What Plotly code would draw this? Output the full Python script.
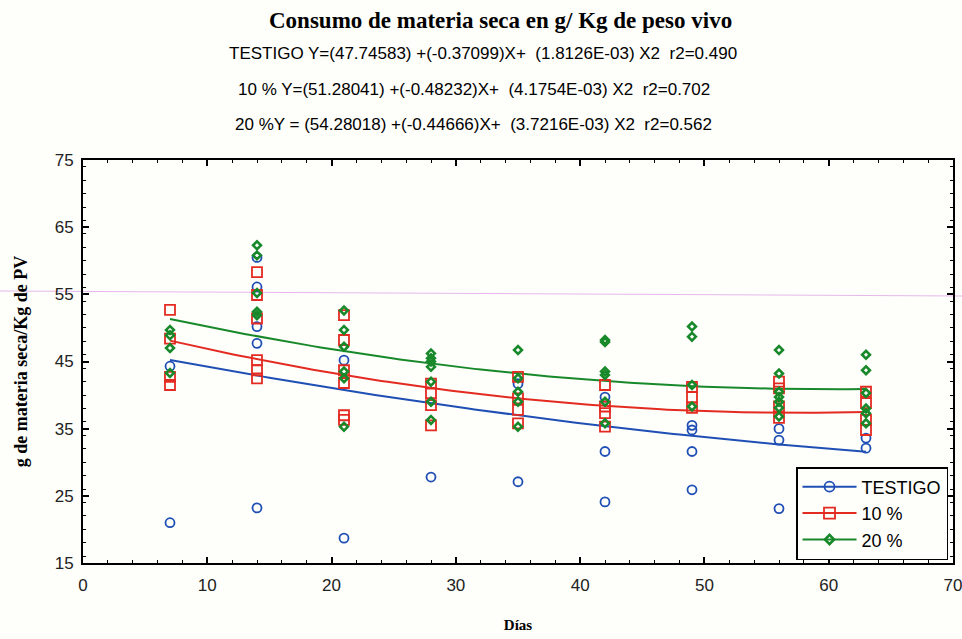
import plotly.graph_objects as go

# ---------------- data ----------------
dias = [7, 14, 21, 28, 35, 42, 49, 56, 63]

testigo = {
    7: [44.3, 21.0],
    14: [60.5, 56.1, 50.2, 47.7, 23.2],
    21: [45.2, 18.7],
    28: [27.8],
    35: [41.7, 27.1],
    42: [39.7, 31.6, 24.1],
    49: [35.5, 34.8, 31.6, 25.9],
    56: [35.0, 33.3, 23.1],
    63: [33.6, 32.1],
}
diez = {
    7: [52.7, 48.4, 42.7, 41.5],
    14: [58.3, 54.9, 51.4, 45.2, 43.7, 42.5],
    21: [51.9, 48.2, 43.7, 41.8, 37.0, 36.3],
    28: [41.7, 40.3, 38.5, 35.5],
    35: [42.7, 39.5, 37.8, 35.8],
    42: [41.5, 38.3, 37.3, 35.3],
    49: [41.2, 39.7, 38.1],
    56: [42.0, 41.0, 38.3, 36.6],
    63: [40.5, 38.8, 36.3, 34.8],
}
veinte = {
    7: [49.7, 48.9, 47.0, 43.3],
    14: [62.3, 60.8, 55.2, 52.4, 51.9],
    21: [52.6, 49.7, 47.2, 43.5, 42.5, 35.3],
    28: [46.2, 45.5, 45.0, 44.2, 42.0, 39.0, 36.3],
    35: [46.7, 42.5, 40.5, 39.0, 35.3],
    42: [48.2, 47.9, 43.5, 43.0, 39.0, 35.8],
    49: [50.2, 48.7, 41.5, 38.3],
    56: [46.7, 43.2, 40.5, 39.7, 39.0, 38.1, 36.8],
    63: [46.0, 43.7, 40.3, 38.0, 37.3, 35.8],
}

# quadratic fit coefficients (from the chart subtitle)
coef_testigo = [47.74583, -0.37099, 1.8126e-03]
coef_diez = [51.28041, -0.48232, 4.1754e-03]
coef_veinte = [54.28018, -0.44666, 3.7216e-03]

series_names = ["TESTIGO", "10 %", "20 %"]
colors = ["#1f4fb5", "#e32b22", "#18892a"]
symbols = ["circle-open", "square-open", "diamond-open"]
sizes = [9, 10, 6]
mlw = [1.8, 1.8, 2.6]

fig = go.Figure()


def flatten(d):
    xs, ys = [], []
    for k in dias:
        for v in d[k]:
            xs.append(k)
            ys.append(v)
    return xs, ys


def fit_curve(c):
    xs = [dias[0] + i * 0.5 for i in range(int((dias[-1] - dias[0]) / 0.5) + 1)]
    ys = [c[0] + c[1] * x + c[2] * x * x for x in xs]
    return xs, ys


datas = [testigo, diez, veinte]
coefs = [coef_testigo, coef_diez, coef_veinte]

# fit lines
for name, col, c in zip(series_names, colors, coefs):
    fx, fy = fit_curve(c)
    fig.add_trace(go.Scatter(x=fx, y=fy, mode="lines", line=dict(color=col, width=2),
                             showlegend=False, hoverinfo="skip"))

# points
for name, col, sym, sz, lw, d in zip(series_names, colors, symbols, sizes, mlw, datas):
    px, py = flatten(d)
    fig.add_trace(go.Scatter(x=px, y=py, mode="markers", name=name,
                             marker=dict(symbol=sym, size=sz, color=col, line=dict(color=col, width=lw)),
                             showlegend=False))

# legend entries
for name, col, sym, sz, lw in zip(series_names, colors, symbols, sizes, mlw):
    fig.add_trace(go.Scatter(x=[None], y=[None], mode="lines+markers", name=name,
                             line=dict(color=col, width=2),
                             marker=dict(symbol=sym, size=sz + 1, color=col, line=dict(color=col, width=lw))))

serif = "Liberation Serif, Times New Roman, serif"
narrow = "Liberation Sans Narrow, Arial Narrow, Liberation Sans, Arial, sans-serif"

axis_common = dict(
    showline=True, linecolor="black", linewidth=2, mirror="allticks",
    ticks="inside", ticklen=6, tickwidth=1.5, tickcolor="black",
    showgrid=False, zeroline=False, automargin=False, ticklabeloverflow="allow",
    tickfont=dict(family=narrow, size=17, color="#222"),
    minor=dict(ticks="inside", ticklen=3, tickwidth=1.2, tickcolor="black", dtick=2),
)

fig.update_xaxes(range=[0, 70], dtick=10, tick0=0, ticklabelstandoff=6,
                 title=dict(text="<b>Días</b>", font=dict(family=serif, size=15, color="black"), standoff=25),
                 **axis_common)
fig.update_yaxes(range=[15, 75], dtick=10, tick0=15, ticklabelstandoff=4,
                 title=dict(text="<b>g de materia seca/Kg de PV</b>", font=dict(family=serif, size=18, color="black"), standoff=22),
                 **axis_common)

annotations = [
    dict(text="<b>Consumo de materia seca en g/ Kg de peso vivo</b>", x=500, y=20,
         font=dict(family=serif, size=23, color="black")),
    dict(text="TESTIGO Y=(47.74583) +(-0.37099)X+  (1.8126E-03) X2  r2=0.490", x=483, y=54,
         font=dict(family=narrow, size=17, color="black")),
    dict(text="10 % Y=(51.28041) +(-0.48232)X+  (4.1754E-03) X2  r2=0.702", x=474, y=89,
         font=dict(family=narrow, size=17, color="black")),
    dict(text="20 %Y = (54.28018) +(-0.44666)X+  (3.7216E-03) X2  r2=0.562", x=473, y=124,
         font=dict(family=narrow, size=17, color="black")),
]
L, R, T, B = 83, 9, 160, 76
W, H = 962, 639
pw, ph = W - L - R, H - T - B
ann = []
for a in annotations:
    ann.append(dict(text=a["text"], xref="paper", yref="paper",
                    x=(a["x"] - L) / pw, y=(H - B - a["y"]) / ph,
                    xanchor="center", yanchor="middle", showarrow=False, font=a["font"]))

fig.update_layout(
    width=W, height=H,
    margin=dict(l=L, r=R, t=T, b=B, autoexpand=False),
    paper_bgcolor="#fefefa", plot_bgcolor="#fefefa",
    annotations=ann,
    legend=dict(x=(796 - L) / pw, y=(H - B - 467) / ph, xanchor="left", yanchor="top",
                bordercolor="black", borderwidth=1.5, bgcolor="#fefefa",
                font=dict(family=narrow, size=18, color="black"),
                tracegroupgap=0, itemwidth=54),
    shapes=[dict(type="line", xref="paper", yref="paper",
                 x0=-L / pw, x1=(W - L) / pw,
                 y0=(H - B - 291) / ph, y1=(H - B - 296) / ph,
                 line=dict(color="#e6b8ea", width=1), layer="below")],
    showlegend=True,
)

fig.write_html("out.html")
